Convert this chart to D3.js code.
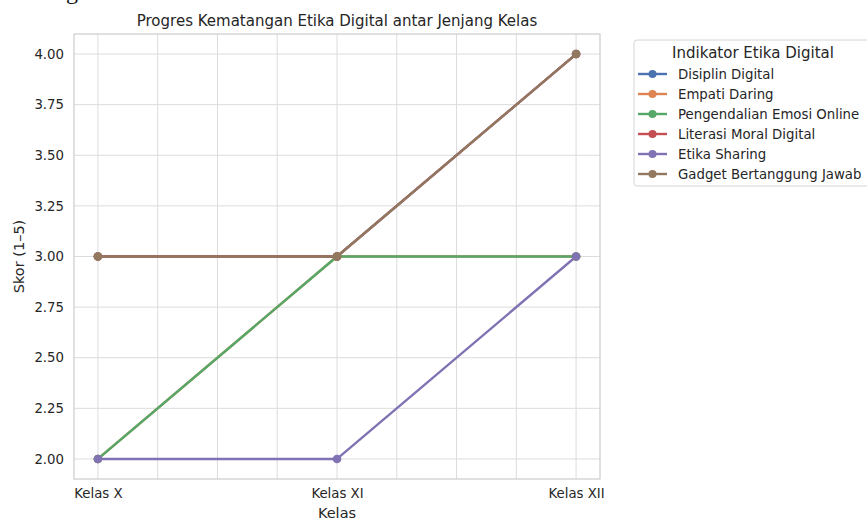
<!DOCTYPE html>
<html>
<head>
<meta charset="utf-8">
<script src="https://cdn.jsdelivr.net/npm/d3@7"></script>
<style>
  body { margin: 0; background: #fff; }
  text { font-family: "DejaVu Sans", sans-serif; fill: #262626; }
</style>
</head>
<body>
<div id="chart-area"></div>
<script>
// data
let kelas = ["Kelas X", "Kelas XI", "Kelas XII"];
let indikator = ["Disiplin Digital", "Empati Daring", "Pengendalian Emosi Online",
    "Literasi Moral Digital", "Etika Sharing", "Gadget Bertanggung Jawab"];
let disiplin = [3, 3, 4];
let empati = [2, 3, 3];
let pengendalian = [2, 3, 3];
let literasi = [3, 3, 4];
let sharing = [2, 2, 3];
let gadget = [3, 3, 4];
let yTicks = [2.00, 2.25, 2.50, 2.75, 3.00, 3.25, 3.50, 3.75, 4.00];
let colors = ["#4C72B0", "#DD8452", "#55A868", "#C44E52", "#8172B3", "#937860"];

let seriesValues = [disiplin, empati, pengendalian, literasi, sharing, gadget];
let series = indikator.map((name, i) => ({
    name: name,
    color: colors[i],
    points: seriesValues[i].map((v, j) => ({ k: j, v: v }))
}));

let margin = { left: 74, right: 267, top: 34, bottom: 41 };
let width = 867 - margin.left - margin.right;
let height = 520 - margin.top - margin.bottom;

let root = d3.select("#chart-area")
    .append("svg")
    .attr("width", 867)
    .attr("height", 520);

// descender of text cut off above the image
root.append("text")
    .attr("x", 66)
    .attr("y", -1)
    .style("font-family", "'Liberation Serif', serif")
    .style("font-size", "24px")
    .style("fill", "#111")
    .text("g");

let svg = root.append("g")
    .attr("transform", "translate(" + margin.left + "," + margin.top + ")");

let x = d3.scaleLinear()
    .domain([-0.1, 2.1])
    .range([0, width]);

let y = d3.scaleLinear()
    .domain([1.901, 4.099])
    .range([height, 0]);

// grid
let gridGroup = svg.append("g").attr("class", "grid");
gridGroup.selectAll(".vgrid")
    .data(d3.range(0, 2.01, 0.25))
    .enter().append("line")
    .attr("x1", d => x(d)).attr("x2", d => x(d))
    .attr("y1", 0).attr("y2", height)
    .attr("stroke", "#dcdcdc").attr("stroke-width", 1);
gridGroup.selectAll(".hgrid")
    .data(yTicks)
    .enter().append("line")
    .attr("x1", 0).attr("x2", width)
    .attr("y1", d => y(d)).attr("y2", d => y(d))
    .attr("stroke", "#dcdcdc").attr("stroke-width", 1);

// frame
svg.append("rect")
    .attr("width", width).attr("height", height)
    .attr("fill", "none").attr("stroke", "#cccccc").attr("stroke-width", 1.2);

// X axis
let xAxis = d3.axisBottom(x)
    .tickValues([0, 1, 2])
    .tickFormat((d, i) => kelas[i])
    .tickSize(0)
    .tickPadding(10);
let gx = svg.append("g")
    .attr("class", "x-axis")
    .attr("transform", "translate(0," + height + ")")
    .call(xAxis);
gx.select(".domain").remove();
gx.selectAll("text").style("font-size", "13.3px").style("font-family", "DejaVu Sans").attr("fill", "#262626");

// Y axis
let yAxis = d3.axisLeft(y)
    .tickValues(yTicks)
    .tickFormat(d3.format(".2f"))
    .tickSize(0)
    .tickPadding(10);
let gy = svg.append("g")
    .attr("class", "y-axis")
    .call(yAxis);
gy.select(".domain").remove();
gy.selectAll("text").style("font-size", "13.3px").style("font-family", "DejaVu Sans").attr("fill", "#262626");

// lines
let line = d3.line()
    .x(d => x(d.k))
    .y(d => y(d.v));

let lines = svg.append("g").attr("class", "lines");
series.forEach(s => {
    lines.append("path")
        .datum(s.points)
        .attr("fill", "none")
        .attr("stroke", s.color)
        .attr("stroke-width", 2.4)
        .attr("stroke-linejoin", "round")
        .attr("d", line);
    lines.selectAll(null)
        .data(s.points)
        .enter().append("circle")
        .attr("cx", d => x(d.k))
        .attr("cy", d => y(d.v))
        .attr("r", 4.3)
        .attr("fill", s.color);
});

// title
svg.append("text")
    .attr("x", width / 2)
    .attr("y", -8)
    .attr("text-anchor", "middle")
    .style("font-size", "15px")
    .text("Progres Kematangan Etika Digital antar Jenjang Kelas");

// axis labels
svg.append("text")
    .attr("x", width / 2)
    .attr("y", height + 39)
    .attr("text-anchor", "middle")
    .style("font-size", "14.5px")
    .text("Kelas");

svg.append("text")
    .attr("transform", "rotate(-90)")
    .attr("x", -(height / 2))
    .attr("y", -50)
    .attr("text-anchor", "middle")
    .style("font-size", "14.5px")
    .text("Skor (1–5)");

// legend
let legend = root.append("g")
    .attr("class", "legend")
    .attr("transform", "translate(634,40)");
legend.append("rect")
    .attr("width", 240).attr("height", 146)
    .attr("rx", 3)
    .attr("fill", "#fff").attr("stroke", "#d6d6d6");
legend.append("text")
    .attr("x", 119).attr("y", 18)
    .attr("text-anchor", "middle")
    .style("font-size", "15px")
    .text("Indikator Etika Digital");
let items = legend.selectAll(".item")
    .data(series)
    .enter().append("g")
    .attr("transform", (d, i) => "translate(0," + (34 + i * 20) + ")");
items.append("line")
    .attr("x1", 4).attr("x2", 33)
    .attr("stroke", d => d.color).attr("stroke-width", 2.4);
items.append("circle")
    .attr("cx", 18.5).attr("r", 4)
    .attr("fill", d => d.color);
items.append("text")
    .attr("x", 44).attr("y", 4.8)
    .style("font-size", "13.3px")
    .text(d => d.name);
</script>
</body>
</html>
